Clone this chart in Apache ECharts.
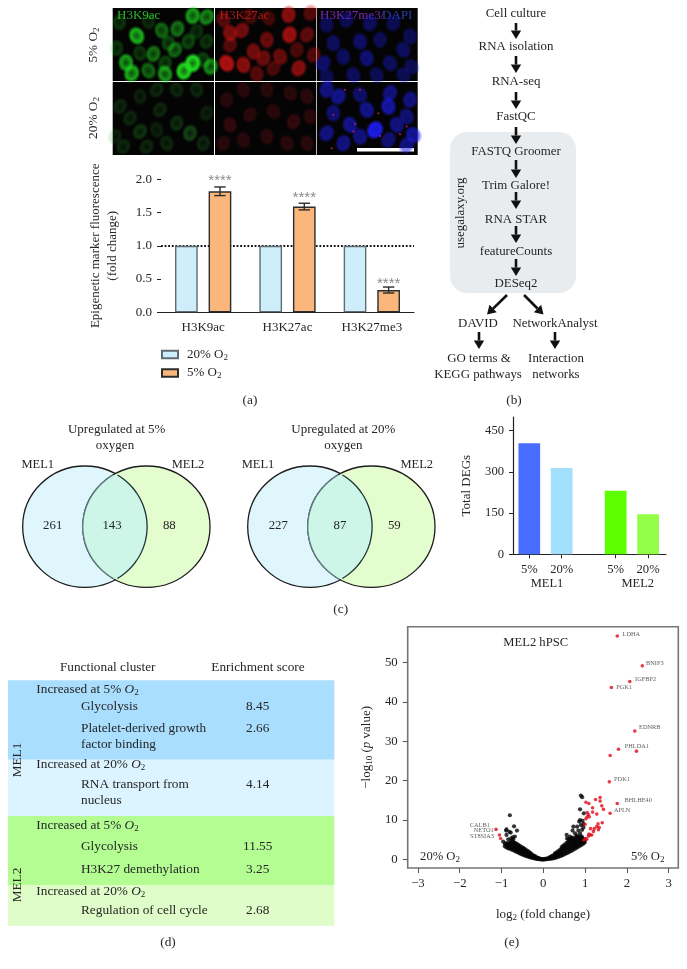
<!DOCTYPE html>
<html><head><meta charset="utf-8"><style>html,body{margin:0;padding:0;background:#fff}#c{width:687px;height:969px}</style>
<script src="https://cdn.jsdelivr.net/npm/echarts@6/dist/echarts.min.js"></script></head><body><div id="c"></div>
<script>
// ---------- panel (a) ----------
const markerCategories = ['H3K9ac','H3K27ac','H3K27me3'];
const fold20 = [1,1,1];
const fold5 = [1.82,1.59,0.335];
const fold5Err = [0.065,0.05,0.045];
const foldStars = ['****','****','****'];
const foldTicks = [0,0.5,1,1.5,2];
// micrograph nuclei: field x, field y, brightness
const greenHigh = [[398,48,.7],[440,52,.6],[305,92,.45],[352,87,.5],[230,108,.8],[178,68,.22],[325,130,.3],[385,125,.3],[345,150,.45],[280,162,.5],[198,188,.7],[315,190,.28],[398,190,1],[372,213,.95],[215,220,.75],[265,212,.45],[315,222,.65],[430,180,.28],[240,160,.22],[170,145,.22],[440,125,.22],[452,200,.6],[265,65,.18],[410,95,.2]];
const redHigh = [[510,100,.6],[545,92,.55],[620,120,.5],[688,105,.75],[740,105,.45],[685,45,.65],[750,40,.4],[580,155,.55],[610,175,.5],[500,190,.85],[550,195,.65],[660,170,.5],[715,205,.65],[760,165,.4],[640,205,.35],[510,135,.4],[710,150,.35],[490,60,.4],[590,222,.4],[570,50,.3],[625,55,.3]];
const blueHigh = [[800,75,.4],[860,60,.4],[930,70,.45],[1000,70,.4],[1050,110,.4],[820,130,.45],[900,125,.5],[960,120,.4],[1030,150,.45],[790,190,.5],[850,170,.45],[920,175,.55],[990,190,.45],[1055,200,.4],[880,225,.45],[950,225,.4],[1030,225,.4],[800,230,.4]];
const greenLow = [[180,320,.22],[210,355,.22],[240,395,.3],[165,410,.18],[190,440,.22],[290,270,.22],[350,270,.22],[410,270,.22],[300,330,.22],[350,370,.26],[390,400,.4],[440,340,.18],[320,430,.22],[260,440,.22],[430,430,.22],[240,290,.18],[290,390,.18]];
const redLow = [[500,300,.25],[550,270,.25],[620,270,.25],[690,280,.25],[740,290,.25],[510,375,.3],[570,345,.25],[640,335,.25],[700,365,.3],[750,350,.25],[490,430,.25],[550,420,.25],[620,410,.25],[680,430,.25],[740,430,.25]];
const blueLow = [[800,270,.55],[835,290,.6],[900,285,.45],[990,280,.55],[1050,300,.55],[820,340,.5],[920,330,.6],[985,320,.7],[1040,350,.5],[800,400,.55],[870,375,.6],[945,390,1],[1010,375,.55],[1060,405,.65],[850,430,.55],[900,410,.55],[985,420,.5],[1040,435,.55]];
const redSpecks = [[820,345],[885,372],[955,340],[1040,380],[960,408],[1020,403],[855,270],[900,270],[880,395],[815,445]];
// ---------- panel (c) ----------
const degGroups = ['MEL1','MEL2'];
const degLabels = ['5%','20%','5%','20%'];
const degValues = [404,314,231,146];
const degTicks = [0,150,300,450];
const vennCounts = [[261,143,88],[227,87,59]];
const vennTitles = ['Upregulated at 5%','Upregulated at 20%'];
// ---------- panel (d) ----------
const tableHeads = ['Functional cluster','Enrichment score'];
const tableRows = [
 ['Increased at 5% {i|O}{s|2}',''],['Glycolysis','8.45'],['Platelet-derived growth','2.66'],['factor binding',''],
 ['Increased at 20% {i|O}{s|2}',''],['RNA transport from','4.14'],['nucleus',''],
 ['Increased at 5% {i|O}{s|2}',''],['Glycolysis','11.55'],['H3K27 demethylation','3.25'],
 ['Increased at 20% {i|O}{s|2}',''],['Regulation of cell cycle','2.68']];
// ---------- panel (e) ----------
const volcanoHits = [[1.77,56.8,'LDHA'],[2.37,49.2,'BNIP3'],[2.07,45.2,'IGFBP2'],[1.63,43.7,'PGK1'],[2.19,32.6,'EDNRB'],[1.80,28,'PHLDA1'],[2.23,27.5],[1.60,26.4],[1.58,19.7,'PDK1'],[1.77,14.2,'BHLHE40'],[1.60,11.7,'APLN'],
 [1.36,15.7],[1.36,14.8],[1.25,15.2],[1.40,13.6],[1.44,12.7],[1.28,11.5],[1.18,13.1],[1.18,12.0],[1.02,14.5],[1.09,14.2],[1.05,11.9],[1.08,11.4],[1.05,10.8],[1.02,10.3],[1.10,10.8],[1.0,8.9],[1.41,9.3],[1.31,9.0],[1.28,8.3],[1.34,8.1],[1.22,7.8],[1.13,7.8],[1.20,7.1],[1.12,6.2],[1.08,5.9],[1.16,6.2],[1.02,5.3],[0.97,4.9],[1.04,5.1],[1.32,7.5],[1.09,6.4],
 [-1.13,7.6,'CALB1'],[-1.05,6.2,'NETO1'],[-1.02,5.3,'ST8SIA3']];
const volcanoSparse = [[-0.80,11.2],[-0.70,8.4],[-0.63,7.3],[-0.88,7.6],[-0.89,7.3],[-0.81,7.0],[-0.78,6.8],[-0.88,6.2],[-0.84,5.1],[-0.96,4.5],[-0.73,5.6],[-0.68,5.8],[-0.77,5.3],[-0.72,5.1],
 [0.90,16.2],[0.93,15.8],[0.88,12.7],[0.97,11.7],[0.88,10],[0.94,9.8],[0.86,9.6],[0.96,9],[0.90,8.7],[0.81,8.3],[0.93,7.5],[0.72,8.3],[0.70,7.3],[0.56,6.2],[0.57,5.3],[0.64,5.8],[0.76,6.6],[0.84,7.3],[0.88,6.6],[0.92,5.8],[0.80,5.8],[0.68,5.3],[0.96,8.1]];
// each row: log2 fold change, then the -log10 p values seen at it
const volcanoBand = [[-0.92,3.3,3.9],[-0.88,3.0,3.6,4.1],[-0.84,2.8,3.4,4.0],[-0.80,2.7,3.2,3.8,4.3],[-0.76,2.5,3.0,3.6,4.2,4.7],[-0.72,2.3,2.8,3.4,3.9,4.5],[-0.68,2.1,2.6,3.2,3.7,4.2],[-0.64,1.9,2.4,2.9,3.5,4.0],[-0.60,1.7,2.2,2.7,3.2,3.7],[-0.56,1.5,2.0,2.5,3.0,3.4],[-0.52,1.3,1.8,2.3,2.8,3.1],[-0.48,1.1,1.6,2.1,2.6,2.9],[-0.44,0.95,1.4,1.9,2.3,2.6],[-0.40,0.8,1.2,1.6,2.0,2.3],[-0.36,0.65,1.0,1.4,1.8,2.0],[-0.32,0.5,0.85,1.2,1.5,1.7],[-0.28,0.4,0.7,1.0,1.3],[-0.24,0.3,0.55,0.85,1.0],[-0.20,0.2,0.45,0.7,0.8],[-0.16,0.1,0.3,0.5],[-0.12,0.05,0.2,0.35],[-0.08,0,0.15],[-0.04,-0.05,0.05],[0,-0.1,0.05],
 [0.04,0,0.1],[0.08,0.02,0.18],[0.12,0.08,0.3],[0.16,0.12,0.38,0.55],[0.20,0.18,0.48,0.8],[0.24,0.26,0.6,1.0],[0.28,0.36,0.75,1.2,1.5],[0.32,0.5,0.95,1.4,1.8],[0.36,0.62,1.15,1.65,2.1],[0.40,0.78,1.3,1.85,2.4],[0.44,0.95,1.5,2.1,2.7,3.1],[0.48,1.15,1.75,2.35,2.95,3.5],[0.52,1.35,1.95,2.6,3.2,3.8],[0.56,1.55,2.2,2.85,3.5,4.2],[0.60,1.75,2.4,3.05,3.7,4.4,5.0],[0.64,2.0,2.6,3.25,3.9,4.5,5.2],[0.68,2.2,2.85,3.5,4.1,4.8,5.3],[0.72,2.45,3.1,3.7,4.3,4.9,5.5],[0.76,2.7,3.3,3.9,4.5,5.1],[0.80,2.95,3.55,4.15,4.7,5.3,6.0],[0.84,3.2,3.8,4.4,5.0,5.6],[0.88,3.45,4.05,4.6,5.2,5.9],[0.92,3.7,4.3,4.9,5.5],[0.96,4.0,4.6,5.2],[0.99,4.3,4.7]];
const volcanoXTicks = [-3,-2,-1,0,1,2,3];
const volcanoYTicks = [0,10,20,30,40,50];

// ---------- layout and helpers ----------
const FF = 'Liberation Serif', INK = '#262626';
const SUB = {fontSize:9, fontFamily:FF, padding:[6,0,0,0]};
const rich = (size)=>({s:{...SUB}, i:{fontSize:size, fontFamily:FF, fontStyle:'italic'}});
function T(text,x,y,o={}){
  const size=o.size||13.3;
  return {type:'text',x,y,rotation:o.rot||0,silent:true,style:{text,fill:o.fill||INK,fontSize:size,fontFamily:FF,fontStyle:o.style||'normal',
    align:o.align||'center',textAlign:o.align||'center',verticalAlign:'middle',textVerticalAlign:'middle',rich:rich(size)}};
}
function arrow(x1,y1,x2,y2){
  const L=Math.hypot(x2-x1,y2-y1),ux=(x2-x1)/L,uy=(y2-y1)/L,h=8.5,w=5.2;
  const bx=x2-ux*h,by=y2-uy*h;
  return [{type:'line',shape:{x1,y1,x2:bx,y2:by},style:{stroke:'#111',lineWidth:2.6}},
   {type:'polygon',shape:{points:[[x2,y2],[bx-uy*w,by+ux*w],[bx+uy*w,by-ux*w]]},style:{fill:'#111'}}];
}
function venn(lx,rx,idx,pos){
  const cy=526.7,ry=60.7,lr=62.2,rr=63.6,cL=lx,cR=rx;
  const els=[{type:'ellipse',shape:{cx:cL,cy,rx:lr,ry},style:{fill:'#e0f6fd',stroke:'#1c1c1c',lineWidth:1.3}},
   {type:'ellipse',shape:{cx:cR,cy,rx:rr,ry},style:{fill:'#e3fdcf',stroke:'#1c1c1c',lineWidth:1.3}}];
  const arcL=[],arcR=[];
  for(let k=-60.7;k<=60.7;k+=1.5){
    const q=1-(k*k)/(ry*ry),xr=cL+lr*Math.sqrt(Math.max(q,0)),xl=cR-rr*Math.sqrt(Math.max(q,0));
    if(xr>=xl){arcL.push([xr,cy+k]);arcR.push([xl,cy+k]);}
  }
  els.push({type:'polygon',shape:{points:arcL.concat(arcR.slice().reverse())},style:{fill:'#cdf5e8'}});
  els.push({type:'polyline',shape:{points:arcL},style:{stroke:'#1f3535',lineWidth:1.3,fill:null}});
  els.push({type:'polyline',shape:{points:arcR},style:{stroke:'#5f7f80',lineWidth:1.3,fill:null}});
  const c=vennCounts[idx];
  els.push(T(String(c[0]),pos[0],526,{size:12.8}),T(String(c[1]),pos[1],526,{size:12.8}),T(String(c[2]),pos[2],526,{size:12.8}));
  return els;
}
const G=[];
// (a) labels
G.push(T('5% O{s|2}',94,45,{rot:Math.PI/2}),T('20% O{s|2}',94,118,{rot:Math.PI/2}));
G.push(T('H3K9ac',117,16,{align:'left',fill:'#2fb52f',size:13}),T('H3K27ac',219.5,16,{align:'left',fill:'#b01818',size:13}));
G.push(T('H3K27me3/',320,16,{align:'left',fill:'#7a2cb8',size:13}),T('DAPI',382,16,{align:'left',fill:'#2b3db0',size:13}));
G.push({type:'rect',shape:{x:357,y:148,width:57,height:3.5},style:{fill:'#fff'}});
G.push(T('(a)',250,401));
// (b) workflow
G.push({type:'rect',shape:{x:450,y:132,width:126,height:161,r:17},style:{fill:'#e9ecee'}});
[['Cell culture',516,14],['RNA isolation',516,47],['RNA-seq',516,82],['FastQC',516,117],['FASTQ Groomer',516,152],['Trim Galore!',516,186],['RNA STAR',516,220],['featureCounts',516,252],['DESeq2',516,284],['DAVID',478,324],['NetworkAnalyst',555,324],['GO terms &',479,359],['Interaction',556,359],['KEGG pathways',478,375],['networks',556,375]].forEach(r=>G.push(T(r[0],r[1],r[2],{size:12.9})));
G.push(T('usegalaxy.org',461,213,{rot:Math.PI/2,size:12.9}),T('(b)',514,401));
[[23,39],[56,73],[92,109],[127,144],[160,178],[192,209],[226,243],[259,276]].forEach(a=>G.push(...arrow(516,a[0],516,a[1])));
G.push(...arrow(507,295,487,314.5),...arrow(524,295,543.5,314.5),...arrow(479,332,479,349),...arrow(555,332,555,349));
// (c) venn
G.push(...venn(84.9,146.4,0,[52.7,112,169.3]),...venn(309.9,371.4,1,[278.3,340,394.3]));
const C={size:13};
G.push(T(vennTitles[0],116.7,430,C),T('oxygen',115,446,C),T(vennTitles[1],343.3,430,C),T('oxygen',343.3,446,C));
const M={size:12.5};
G.push(T('MEL1',37.7,465,M),T('MEL2',188,465,M),T('MEL1',258,465,M),T('MEL2',416.7,465,M),T('(c)',340.7,610));
G.push(T(degGroups[0],547,584,M),T(degGroups[1],637.7,584,M));
// (d) table
[[680.3,79.4,'#a9defe'],[759.7,56.3,'#dcf4ff'],[816,69,'#b3fd92'],[885,40.7,'#dffdc8']].forEach(b=>G.push({type:'rect',shape:{x:8,y:b[0],width:326.3,height:b[1]},style:{fill:b[2]}}));
G.push(T(tableHeads[0],107.7,668),T(tableHeads[1],258,668));
[690,706.3,728.3,744.3,765,784.7,800.7,825.7,847,869.7,891.7,911].forEach((y,i)=>{
  const r=tableRows[i],head=r[0].startsWith('Increased');
  G.push(T(r[0],head?36.3:81,y,{align:'left'}));
  if(r[1])G.push(T(r[1],257.7,y));
});
G.push(T('MEL1',17.3,760,{rot:Math.PI/2}),T('MEL2',17.3,885,{rot:Math.PI/2}),T('(d)',168,943));
// (e) annotations
G.push(T('MEL2 hPSC',535.7,643,{size:12.6}),T('20% O{s|2}',440,857,{size:12.6}),T('5% O{s|2}',647.7,857,{size:12.6}),T('(e)',511.7,943));

// micrograph grids
const fields=[
 {d:greenHigh,c:'#1fe01f',g:[112.7,8,101.3,73],x:[158,462],y:[25,243],h:'77'},
 {d:redHigh,c:'#d01212',g:[215,8,101.3,73],x:[465,768],y:[25,243],h:'dd'},
 {d:blueHigh,c:'#1818d0',g:[317,8,100.7,73],x:[771,1073],y:[25,243],h:'dd'},
 {d:greenLow,c:'#2aa02a',g:[112.7,82,101.3,73],x:[158,462],y:[247,465],h:'66'},
 {d:redLow,c:'#9a1420',g:[215,82,101.3,73],x:[465,768],y:[247,465],h:'dd'},
 {d:blueLow,c:'#1c1ce8',g:[317,82,100.7,73],x:[771,1073],y:[247,465],h:'dd'}];
const grid=[],xAxis=[],yAxis=[],series=[];
const nucleus='path://M50,0 A50,50 0 1,1 50,100 A50,50 0 1,1 50,0Z';
fields.forEach((f,i)=>{
  grid.push({left:f.g[0],top:f.g[1],width:f.g[2],height:f.g[3],show:true,backgroundColor:'#040404',borderWidth:0});
  xAxis.push({type:'value',gridIndex:i,min:f.x[0],max:f.x[1],show:false});
  yAxis.push({type:'value',gridIndex:i,min:f.y[0],max:f.y[1],inverse:true,show:false});
  series.push({type:'scatter',xAxisIndex:i,yAxisIndex:i,clip:true,silent:true,symbol:nucleus,
    symbolSize:p=>[15+3*p[2],18+3*p[2]],symbolRotate:p=>(p[0]+p[1])%70-35,
    data:f.d.map(p=>({value:p,itemStyle:{opacity:p[2],color:{type:'radial',x:.5,y:.5,r:.5,colorStops:[{offset:0,color:f.c+f.h},{offset:.62,color:f.c},{offset:1,color:f.c+'00'}]}}}))});
});
series.push({type:'scatter',xAxisIndex:5,yAxisIndex:5,clip:true,silent:true,symbolSize:2,z:3,itemStyle:{color:'#e02070'},data:redSpecks});

// (a) bars: grid 6
grid.push({left:161,top:179.3,width:253,height:133});
xAxis.push({type:'category',gridIndex:6,data:markerCategories,axisLine:{lineStyle:{color:'#222',width:1.2}},axisTick:{length:4,alignWithLabel:true,lineStyle:{color:'#222'}},axisLabel:{color:INK,fontFamily:FF,fontSize:13,margin:9}});
yAxis.push({type:'value',gridIndex:6,min:0,max:2,interval:.5,splitLine:{show:false},axisLine:{show:false},axisTick:{show:true,length:4,lineStyle:{color:'#222'}},
  axisLabel:{color:INK,fontFamily:FF,fontSize:13,margin:9,formatter:v=>v.toFixed(1)},
  name:'Epigenetic marker fluorescence\n(fold change)',nameLocation:'middle',nameGap:40,nameTextStyle:{color:INK,fontFamily:FF,fontSize:13,lineHeight:17}});
const barCommon={type:'bar',xAxisIndex:6,yAxisIndex:6,barWidth:22.7,barGap:'48%',silent:true,z:3};
series.push({...barCommon,name:'20% O2',data:fold20,itemStyle:{color:'#cfeefc',borderColor:'#5f6b70',borderWidth:1.4},
  markLine:{silent:true,z:1,symbol:'none',label:{show:false},lineStyle:{color:'#111',type:[1.8,1.8],width:2},data:[{yAxis:1}]}});
series.push({...barCommon,name:'5% O2',data:fold5.map((v,i)=>({value:v,label:{distance:[3,1,-1][i]}})),itemStyle:{color:'#fbb77b',borderColor:'#2c2c2c',borderWidth:1.4},
  label:{show:true,position:'top',formatter:p=>foldStars[p.dataIndex],color:'#8c8c8c',fontFamily:'Liberation Sans',fontSize:15}});
series.push({type:'custom',xAxisIndex:6,yAxisIndex:6,silent:true,z:4,encode:{x:0,y:[1,2]},
  data:fold5.map((v,i)=>[i,v-fold5Err[i],v+fold5Err[i]]),
  renderItem:(p,api)=>{
    const lo=api.coord([api.value(0),api.value(1)]),hi=api.coord([api.value(0),api.value(2)]),x=lo[0]+16.8,w=5.7;
    const st={stroke:'#2c2c2c',lineWidth:1.4};
    return {type:'group',children:[[x,lo[1],x,hi[1]],[x-w,lo[1],x+w,lo[1]],[x-w,hi[1],x+w,hi[1]]].map(l=>({type:'line',shape:{x1:l[0],y1:l[1],x2:l[2],y2:l[3]},style:st}))};
  }});

// (c) DEG bars: grid 7
grid.push({left:513,top:417,width:153,height:137.3});
const degSlots=[0,3,8,11];
xAxis.push({type:'value',gridIndex:7,min:-1.51,max:12.66,splitLine:{show:false},axisLine:{show:true,onZero:false,lineStyle:{color:'#222',width:1.2}},
  axisTick:{show:true,length:4,customValues:degSlots,lineStyle:{color:'#222'}},
  axisLabel:{color:INK,fontFamily:FF,fontSize:12.6,margin:9,customValues:degSlots,formatter:v=>degLabels[degSlots.indexOf(v)]}});
yAxis.push({type:'value',gridIndex:7,min:0,max:500,splitLine:{show:false},axisLine:{show:true,onZero:false,lineStyle:{color:'#222',width:1.2}},
  axisTick:{show:true,length:4,customValues:degTicks,lineStyle:{color:'#222'}},
  axisLabel:{color:INK,fontFamily:FF,fontSize:12.6,margin:9,customValues:degTicks},
  name:'Total DEGs',nameLocation:'middle',nameGap:40,nameTextStyle:{color:INK,fontFamily:FF,fontSize:13}});
const degColors=['#4a6cff','#a2e0fe','#5dfe00','#93fe47'];
series.push({type:'bar',xAxisIndex:7,yAxisIndex:7,barWidth:21.7,silent:true,data:degValues.map((v,i)=>({value:[degSlots[i],v],itemStyle:{color:degColors[i]}}))});

// (e) volcano: grid 8
grid.push({left:407.7,top:626.7,width:270.6,height:241.3,show:true,borderColor:'#767676',borderWidth:1.6,backgroundColor:'#fff'});
xAxis.push({type:'value',gridIndex:8,min:-3.245,max:3.231,splitLine:{show:false},axisLine:{show:false,onZero:false},
  axisTick:{show:true,length:5,customValues:volcanoXTicks,lineStyle:{color:'#555'}},
  axisLabel:{color:INK,fontFamily:FF,fontSize:12.8,margin:9,customValues:volcanoXTicks,formatter:v=>v<0?'\u2212'+(-v):String(v)},
  name:'log{s|2} (fold change)',nameLocation:'middle',nameGap:39,nameTextStyle:{color:INK,fontFamily:FF,fontSize:13,rich:{s:{...SUB}}}});
yAxis.push({type:'value',gridIndex:8,min:-2.21,max:59.15,splitLine:{show:false},axisLine:{show:false,onZero:false},
  axisTick:{show:true,length:5,customValues:volcanoYTicks,lineStyle:{color:'#555'}},
  axisLabel:{color:INK,fontFamily:FF,fontSize:12.8,margin:10,customValues:volcanoYTicks},
  name:'\u2212log{s|10} ({i|p} value)',nameLocation:'middle',nameGap:34,nameTextStyle:{color:INK,fontFamily:FF,fontSize:13,rich:rich(13)}});
const geneLabelAt={LDHA:['right',[2.5,-2]],BNIP3:['right',[1,-2.3]],IGFBP2:['right',[2.5,-2.7]],PGK1:['right',[2,0]],EDNRB:['right',[1.5,-3.3]],PHLDA1:['right',[3.5,-3]],PDK1:['right',[2,-2.7]],BHLHE40:['right',[4.5,-2.7]],APLN:['right',[1,-3]],CALB1:['left',[-3.5,-3.7]],NETO1:['left',[-3,-4.3]],ST8SIA3:['left',[-4,-1.7]]};
series.push({type:'scatter',xAxisIndex:8,yAxisIndex:8,silent:true,z:3,symbolSize:4.2,itemStyle:{color:'#050505'},
  data:volcanoSparse.concat(volcanoBand.flatMap(r=>r.slice(1).map(y=>[r[0],y])))});
series.push({type:'scatter',xAxisIndex:8,yAxisIndex:8,silent:true,z:4,symbolSize:3.6,itemStyle:{color:'#e00a1a'},
  data:volcanoHits.map(h=>h[2]?{name:h[2],value:[h[0],h[1]],label:{show:true,formatter:h[2],position:geneLabelAt[h[2]][0],offset:geneLabelAt[h[2]][1],distance:1,color:'#333',fontFamily:FF,fontSize:6.3}}:{value:[h[0],h[1]]})});

const chart=echarts.init(document.getElementById('c'),null,{renderer:'canvas'});
chart.setOption({animation:false,backgroundColor:'#fff',grid,xAxis,yAxis,series,
  legend:{left:161,top:348,padding:0,orient:'vertical',icon:'rect',itemWidth:16,itemHeight:7.5,itemGap:4.5,data:['20% O2','5% O2'],selectedMode:false,
    formatter:n=>n.replace('O2','O{s|2}'),textStyle:{color:INK,fontFamily:FF,fontSize:13,padding:[0,0,0,4],rich:{s:{...SUB}}}},
  graphic:{z:50,elements:G}});
</script></body></html>
